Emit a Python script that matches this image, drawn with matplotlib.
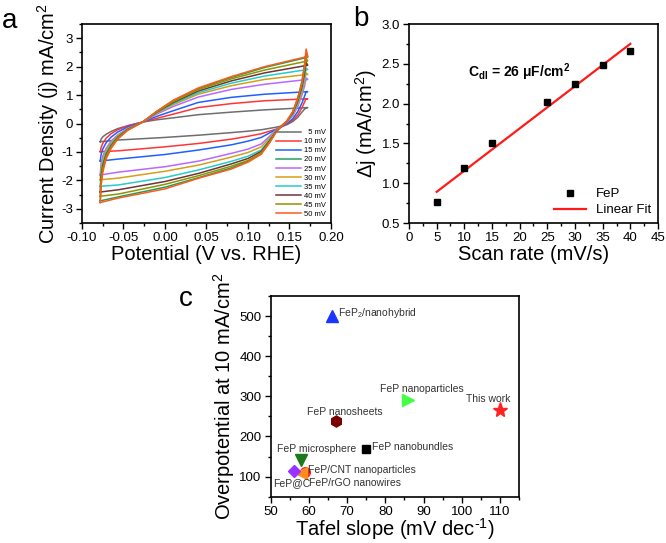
import matplotlib
matplotlib.use('Agg')
import matplotlib.pyplot as plt
from matplotlib.ticker import MultipleLocator, FormatStrFormatter
import numpy as np

plt.rcParams['font.family'] = ['Liberation Sans', 'DejaVu Sans']
plt.rcParams['mathtext.fontset'] = 'custom'
plt.rcParams['mathtext.rm'] = 'Liberation Sans'
plt.rcParams['mathtext.it'] = 'Liberation Sans:italic'
plt.rcParams['mathtext.bf'] = 'Liberation Sans:bold'
plt.rcParams['axes.unicode_minus'] = False

# ---- panel a: CV loops at several scan rates
scan_labels = ['  5 mV', '10 mV', '15 mV', '20 mV', '25 mV',
               '30 mV', '35 mV', '40 mV', '45 mV', '50 mV']
cv_colors = ['#6e6e6e', '#ff3535', '#2060ff', '#20a060', '#b868ff',
             '#d4a017', '#25cccc', '#703535', '#8c9400', '#ff5a1a']

# forward sweep (left -> right)
e_fwd = [-0.078, -0.077, -0.075, -0.071, -0.065, -0.057, -0.045, -0.027,
         -0.010, 0.010, 0.040, 0.080, 0.120, 0.172]
j_fwd = [
    [-0.64, -0.55, -0.47, -0.38, -0.28, -0.18, -0.08, 0.05, 0.13, 0.20, 0.31, 0.40, 0.48, 0.56],
    [-0.99, -0.85, -0.70, -0.52, -0.36, -0.22, -0.08, 0.05, 0.18, 0.33, 0.56, 0.70, 0.80, 0.87],
    [-1.32, -1.10, -0.90, -0.68, -0.48, -0.30, -0.12, 0.05, 0.25, 0.45, 0.74, 0.92, 1.03, 1.12],
    [-2.72, -2.05, -1.63, -1.20, -0.84, -0.53, -0.23, 0.05, 0.42, 0.80, 1.22, 1.62, 1.97, 2.33],
    [-1.81, -1.40, -1.15, -0.88, -0.62, -0.40, -0.17, 0.05, 0.33, 0.60, 0.93, 1.20, 1.38, 1.55],
    [-1.98, -1.55, -1.25, -0.95, -0.68, -0.43, -0.19, 0.05, 0.36, 0.66, 1.03, 1.33, 1.55, 1.73],
    [-2.21, -1.70, -1.38, -1.03, -0.73, -0.46, -0.20, 0.05, 0.38, 0.70, 1.08, 1.42, 1.67, 1.90],
    [-2.41, -1.85, -1.48, -1.10, -0.78, -0.49, -0.21, 0.05, 0.40, 0.74, 1.14, 1.50, 1.78, 2.05],
    [-2.56, -1.95, -1.56, -1.15, -0.81, -0.51, -0.22, 0.05, 0.41, 0.77, 1.19, 1.57, 1.88, 2.20],
    [-2.78, -2.20, -1.72, -1.25, -0.88, -0.55, -0.24, 0.05, 0.43, 0.82, 1.25, 1.65, 2.00, 2.36],
]
# reverse sweep (right -> left)
e_rev = [0.170, 0.168, 0.165, 0.160, 0.154, 0.147, 0.140, 0.134, 0.126,
         0.116, 0.100, 0.080, 0.041, 0.000, -0.056, -0.078]
j_rev = [
    [0.55, 0.50, 0.40, 0.22, 0.07, -0.04, -0.09, -0.13, -0.17, -0.22, -0.27, -0.32, -0.41, -0.49, -0.58, -0.64],
    [0.87, 0.75, 0.55, 0.30, 0.12, -0.02, -0.13, -0.20, -0.27, -0.36, -0.45, -0.55, -0.70, -0.82, -0.96, -0.99],
    [1.12, 0.95, 0.72, 0.42, 0.17, 0.00, -0.12, -0.21, -0.33, -0.49, -0.62, -0.75, -0.93, -1.09, -1.25, -1.32],
    [2.50, 2.05, 1.50, 0.88, 0.41, 0.10, -0.10, -0.29, -0.66, -1.04, -1.32, -1.56, -1.90, -2.24, -2.58, -2.72],
    [1.60, 1.30, 1.00, 0.60, 0.28, 0.05, -0.10, -0.22, -0.45, -0.72, -0.90, -1.05, -1.32, -1.52, -1.71, -1.81],
    [1.78, 1.45, 1.10, 0.68, 0.32, 0.06, -0.10, -0.24, -0.51, -0.82, -1.02, -1.18, -1.46, -1.68, -1.92, -1.98],
    [1.95, 1.60, 1.20, 0.74, 0.34, 0.07, -0.10, -0.26, -0.57, -0.93, -1.15, -1.33, -1.63, -1.90, -2.16, -2.21],
    [2.15, 1.75, 1.30, 0.80, 0.37, 0.08, -0.10, -0.27, -0.61, -0.98, -1.23, -1.42, -1.75, -2.04, -2.33, -2.41],
    [2.30, 1.90, 1.40, 0.85, 0.40, 0.09, -0.10, -0.28, -0.64, -1.03, -1.30, -1.50, -1.83, -2.14, -2.48, -2.56],
    [2.62, 2.00, 1.40, 0.92, 0.42, 0.10, -0.10, -0.30, -0.68, -1.08, -1.36, -1.60, -1.92, -2.30, -2.62, -2.78],
]

# ---- panel b: double layer capacitance
scan_rate = [5, 10, 15, 25, 30, 35, 40]
delta_j = [0.77, 1.19, 1.50, 2.02, 2.25, 2.49, 2.66]

# ---- panel c: comparison with literature
names = ['FeP$_2$/nanohybrid', 'FeP nanoparticles', 'This work', 'FeP nanosheets',
         'FeP nanobundles', 'FeP microsphere', 'FeP/CNT nanoparticles',
         'FeP/rGO nanowires', 'FeP@C']
tafel = [66, 86, 110, 67, 75, 58, 59, 58, 56]
overpot = [500, 291, 267, 239, 169, 141, 112, 108, 113]
c_markers = ['^', '>', '*', 'h', 's', 'v', 'o', '<', 'D']
c_colors = ['#1a35ff', '#44ff44', '#ff2222', '#7a0000', '#000000',
            '#1a7a1a', '#ff2222', '#ff8c1a', '#9933ff']
c_sizes = [8, 9, 11, 8, 6, 8, 7, 8, 6]
# text anchors (left, middle) in data units
lab_x = [67.6, 78.6, 101.1, 59.4, 76.4, 51.6, 59.8, 60.1, 50.7]
lab_y = [508, 318, 294, 261, 175, 170, 117, 85, 85]

fig = plt.figure(figsize=(6.66, 5.43), dpi=100)

def style(ax):
    for s in ax.spines.values():
        s.set_linewidth(1.2)
    ax.tick_params(which='both', direction='out', width=1.0, labelsize=9.5,
                   top=False, right=False, pad=2.5)
    ax.tick_params(which='major', length=4)
    ax.tick_params(which='minor', length=2.5)

# a
ax = fig.add_axes([0.1231, 0.5893, 0.3739, 0.3665])
for k in range(len(scan_labels)):
    ax.plot(e_fwd + e_rev, j_fwd[k] + j_rev[k], color=cv_colors[k], lw=1.1,
            label=scan_labels[k])
ax.set_xlim(-0.10, 0.20)
ax.set_ylim(-3.5, 3.5)
ax.xaxis.set_major_locator(MultipleLocator(0.05))
ax.xaxis.set_minor_locator(MultipleLocator(0.025))
ax.yaxis.set_major_locator(MultipleLocator(1))
ax.yaxis.set_minor_locator(MultipleLocator(0.5))
ax.xaxis.set_major_formatter(FormatStrFormatter('%.2f'))
style(ax)
ax.set_xlabel('Potential (V vs. RHE)', fontsize=14.5, labelpad=1)
ax.set_ylabel('Current Density (j) mA/cm$^2$', fontsize=14.5, labelpad=0)
ax.legend(loc='lower right', bbox_to_anchor=(1.0, 0.0), frameon=False,
          fontsize=5.5, handlelength=3.2, labelspacing=0.22, borderaxespad=0.3,
          handletextpad=0.4)
fig.text(0.003, 0.948, 'a', fontsize=20)

# b
ax = fig.add_axes([0.6141, 0.5893, 0.3739, 0.3665])
slope, icpt = np.polyfit(scan_rate, delta_j, 1)
xf = np.array([scan_rate[0], scan_rate[-1]])
ax.plot(scan_rate, delta_j, 's', color='black', ms=4.5, label='FeP', zorder=3)
ax.plot(xf, slope * xf + icpt, color='#ff1a1a', lw=1.6, label='Linear Fit')
ax.set_xlim(0, 45)
ax.set_ylim(0.5, 3.0)
ax.xaxis.set_major_locator(MultipleLocator(5))
ax.xaxis.set_minor_locator(MultipleLocator(2.5))
ax.yaxis.set_major_locator(MultipleLocator(0.5))
ax.yaxis.set_minor_locator(MultipleLocator(0.25))
style(ax)
ax.set_xlabel('Scan rate (mV/s)', fontsize=14.5, labelpad=1)
ax.set_ylabel('$\\Delta$j (mA/cm$^2$)', fontsize=14.5, labelpad=2)
ax.legend(loc='lower right', frameon=False, fontsize=9.5, handlelength=2.4,
          borderaxespad=0.1, labelspacing=0.3)
ax.text(10.7, 2.40, '$\\mathbf{C_{dl}}$ = 26 \u03bcF/cm$^{\\mathbf{2}}$',
        fontsize=10, fontweight='bold', va='center')
fig.text(0.530, 0.952, 'b', fontsize=20)

# c
ax = fig.add_axes([0.4065, 0.0853, 0.3728, 0.3696])
for k in range(len(names)):
    ax.plot(tafel[k], overpot[k], c_markers[k], color=c_colors[k],
            ms=c_sizes[k], mec=c_colors[k])
    ax.text(lab_x[k], lab_y[k], names[k], fontsize=7.5, color='#333333',
            va='center', ha='left')
ax.set_xlim(50, 115)
ax.set_ylim(50, 550)
ax.xaxis.set_major_locator(MultipleLocator(10))
ax.xaxis.set_minor_locator(MultipleLocator(5))
ax.yaxis.set_major_locator(MultipleLocator(100))
ax.yaxis.set_minor_locator(MultipleLocator(50))
style(ax)
ax.set_xlabel('Tafel slope (mV dec$^{\\text{-}1}$)', fontsize=14.5, labelpad=-1)
ax.set_ylabel('Overpotential at 10 mA/cm$^2$', fontsize=14.5, labelpad=2)
fig.text(0.268, 0.437, 'c', fontsize=20)

fig.savefig('out.png', dpi=100)
